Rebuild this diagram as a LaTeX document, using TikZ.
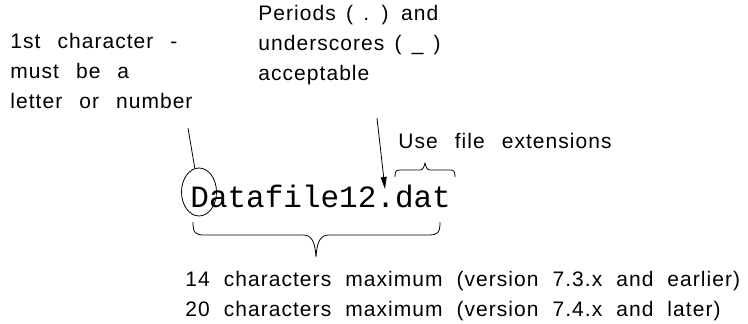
\documentclass[tikz,border=0pt]{standalone}
\usepackage{fontspec}
\setmainfont{Liberation Sans}[LetterSpace=5]
\newfontfamily\codefont{Liberation Mono}
\usetikzlibrary{arrows.meta,shapes.geometric}
\begin{document}
\begin{tikzpicture}[x=1pt,y=-1pt,line width=0.8pt,
    note/.style={inner sep=0pt,align=left,font=\fontsize{21}{29.7}\selectfont\spaceskip 14pt\relax},
    tightnote/.style={note,font=\fontsize{21}{29.7}\selectfont\spaceskip 10.2pt\relax},
    widenote/.style={note,font=\fontsize{21}{29.7}\selectfont\spaceskip 17pt\relax}]
    \useasboundingbox (0,0) rectangle (748,324);
    \node[widenote,anchor=west] (first) at (10,71) {1st character -\\must be a\\letter or number};
    \node[tightnote,anchor=west] (dots) at (258,45) {Periods ( . ) and\\underscores ( \_ )\\acceptable};
    \node[widenote,anchor=base west] (ext) at (398,148) {Use file extensions};
    \node[inner sep=0pt,anchor=base west,font=\codefont\fontsize{31}{31}\selectfont] (fname) at (190,207) {Datafile12.dat};
    \node[note,anchor=west] (limits) at (185,296) {14 characters maximum (version 7.3.x and earlier)\\20 characters maximum (version 7.4.x and later)};
    \node[draw,ellipse,inner sep=0pt,minimum width=35,minimum height=48] (ring) at (199,192) {};
    \coordinate (lineend) at (188,128);
    \coordinate (arrstart) at (377,118);
    \coordinate (dot) at (385,189);
    \draw (ring.100) -- (lineend);
    \draw[-{Triangle[length=12pt,width=6pt]}] (arrstart) -- (dot);
    % braces
    \draw (395,177) .. controls (395,171) and (396,170) .. (400,170) -- (420,170)
      .. controls (423,170) and (424,167) .. (425,163) .. controls (426,167) and (427,170) .. (430,170)
      -- (450,170) .. controls (454,170) and (455,171) .. (455,177);
    \draw (193,222) .. controls (193,233) and (195,235) .. (205,235) -- (303,235)
      .. controls (312,235) and (315,242) .. (316,257) .. controls (317,242) and (320,235) .. (329,235)
      -- (428,235) .. controls (438,235) and (440,233) .. (440,222);
\end{tikzpicture}
\end{document}
